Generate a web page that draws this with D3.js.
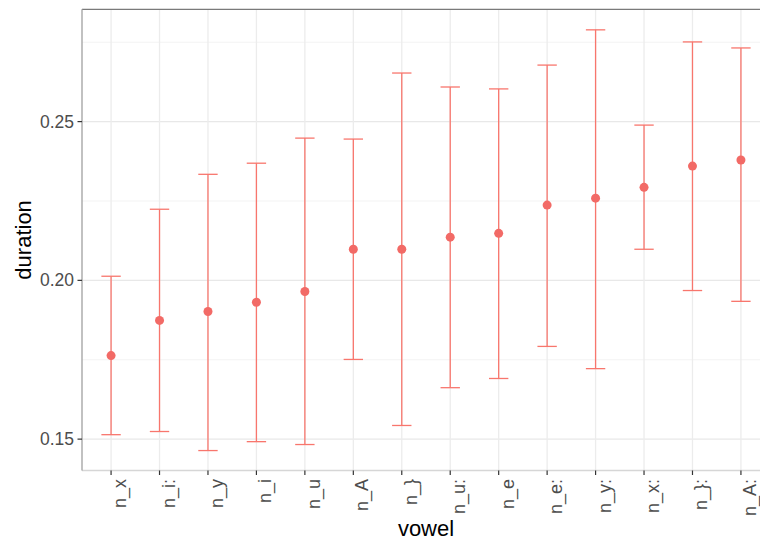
<!DOCTYPE html>
<html>
<head>
<meta charset="utf-8">
<script src="https://cdn.jsdelivr.net/npm/d3@7"></script>
<style>
  html, body { margin: 0; padding: 0; background: #fff; }
  svg { display: block; font-family: "Liberation Sans", Arial, Helvetica, sans-serif; }
</style>
</head>
<body>
<svg id="chart" width="760" height="543"></svg>
<script>
const categories = ["n_x", "n_i:", "n_y", "n_i", "n_u", "n_A", "n_}", "n_u:", "n_e", "n_e:", "n_y:", "n_x:", "n_}:", "n_A:"];
const meanValues = [0.1763, 0.1874, 0.1902, 0.1931, 0.1965, 0.2098, 0.2098, 0.2136, 0.2148, 0.2237, 0.2259, 0.2293, 0.2360, 0.2379];
const upperValues = [0.2013, 0.2224, 0.2334, 0.2369, 0.2448, 0.2445, 0.2653, 0.2609, 0.2603, 0.2678, 0.2789, 0.2489, 0.2751, 0.2732];
const lowerValues = [0.1514, 0.1524, 0.1464, 0.1492, 0.1483, 0.1751, 0.1543, 0.1662, 0.1691, 0.1792, 0.1722, 0.2098, 0.1968, 0.1934];
const yTicks = [0.15, 0.20, 0.25];
const yMinorTicks = [0.175, 0.225, 0.275];
const yTickLabels = ["0.15", "0.20", "0.25"];

(function () {
const svg = d3.select("#chart");
const pL = 82, pR = 770, pT = 9.3, pB = 470.5;
const col = "#F8766D";

const xp = d3.scalePoint().domain(categories).range([pL, pR]).padding(0.6);
const step = xp.step();
const y = d3.scaleLinear().domain([0.14012, 0.28537]).range([pB, pT]);

const data = categories.map((c, i) => ({ c, m: meanValues[i], hi: upperValues[i], lo: lowerValues[i] }));

// grid
const g = svg.append("g");
g.selectAll(".ymin").data(yMinorTicks).join("line")
  .attr("x1", pL).attr("x2", pR).attr("y1", d => y(d)).attr("y2", d => y(d))
  .attr("stroke", "#f3f3f3").attr("stroke-width", 1);
g.selectAll(".ymaj").data(yTicks).join("line")
  .attr("x1", pL).attr("x2", pR).attr("y1", d => y(d)).attr("y2", d => y(d))
  .attr("stroke", "#e8e8e8").attr("stroke-width", 1.3);
g.selectAll(".xmaj").data(categories).join("line")
  .attr("x1", d => xp(d)).attr("x2", d => xp(d)).attr("y1", pT).attr("y2", pB)
  .attr("stroke", "#ececec").attr("stroke-width", 1.3);

// panel borders
svg.append("line").attr("x1", pL).attr("x2", pR).attr("y1", pT).attr("y2", pT)
  .attr("stroke", "#7a7a7a").attr("stroke-width", 1.3);
svg.append("line").attr("x1", pL).attr("x2", pR).attr("y1", pB).attr("y2", pB)
  .attr("stroke", "#d6d6d6").attr("stroke-width", 1.3);
svg.append("line").attr("x1", pL).attr("x2", pL).attr("y1", pT).attr("y2", pB)
  .attr("stroke", "#a0a0a0").attr("stroke-width", 1.3);

// error bars
const eb = svg.append("g");
const capW = step * 0.4;
eb.selectAll(".v").data(data).join("line")
  .attr("x1", d => xp(d.c)).attr("x2", d => xp(d.c))
  .attr("y1", d => y(d.hi)).attr("y2", d => y(d.lo))
  .attr("stroke", col).attr("stroke-width", 1.3);
eb.selectAll(".capHi").data(data).join("line")
  .attr("x1", d => xp(d.c) - capW / 2).attr("x2", d => xp(d.c) + capW / 2)
  .attr("y1", d => y(d.hi)).attr("y2", d => y(d.hi))
  .attr("stroke", col).attr("stroke-width", 1.3);
eb.selectAll(".capLo").data(data).join("line")
  .attr("x1", d => xp(d.c) - capW / 2).attr("x2", d => xp(d.c) + capW / 2)
  .attr("y1", d => y(d.lo)).attr("y2", d => y(d.lo))
  .attr("stroke", col).attr("stroke-width", 1.3);
eb.selectAll("circle").data(data).join("circle")
  .attr("cx", d => xp(d.c)).attr("cy", d => y(d.m)).attr("r", 4.5)
  .attr("fill", "#F26A66");

// y axis ticks & labels
const ya = svg.append("g");
ya.selectAll("line").data(yTicks).join("line")
  .attr("x1", pL - 4.5).attr("x2", pL).attr("y1", d => y(d)).attr("y2", d => y(d))
  .attr("stroke", "#333").attr("stroke-width", 1.2);
ya.selectAll("text").data(yTicks).join("text")
  .attr("x", pL - 8).attr("y", d => y(d)).attr("dy", "0.35em")
  .attr("text-anchor", "end").attr("font-size", 17.5).attr("fill", "#4d4d4d")
  .text((d, i) => yTickLabels[i]);

// x axis ticks & labels
const xa = svg.append("g");
xa.selectAll("line").data(categories).join("line")
  .attr("x1", d => xp(d)).attr("x2", d => xp(d)).attr("y1", pB).attr("y2", pB + 4.5)
  .attr("stroke", "#333").attr("stroke-width", 1.2);
xa.selectAll("text").data(categories).join("text")
  .attr("transform", d => `translate(${xp(d) + 15},${pB + 8.5}) rotate(-90)`)
  .attr("text-anchor", "end").attr("font-size", 18).attr("fill", "#4d4d4d")
  .text(d => d);

// titles
svg.append("text").attr("x", (pL + pR) / 2).attr("y", 536)
  .attr("text-anchor", "middle").attr("font-size", 22).attr("fill", "#000").text("vowel");
svg.append("text").attr("transform", `translate(31,${(pT + pB) / 2}) rotate(-90)`)
  .attr("text-anchor", "middle").attr("font-size", 22).attr("fill", "#000").text("duration");
})();
</script>
</body>
</html>
